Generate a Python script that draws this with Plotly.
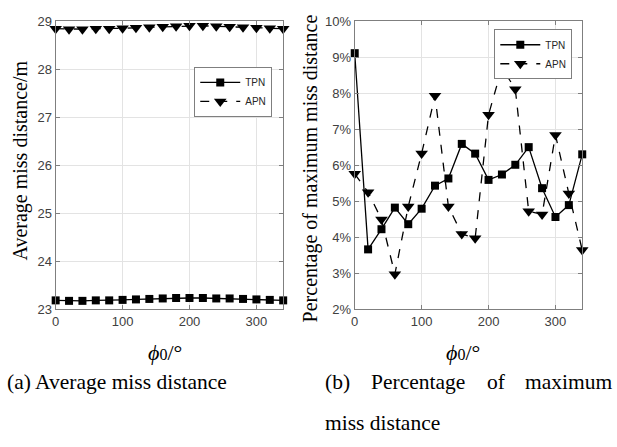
import plotly.graph_objects as go

phi = [0, 20, 40, 60, 80, 100, 120, 140, 160, 180, 200, 220, 240, 260, 280, 300, 320, 340]

avg_tpn = [23.19, 23.18, 23.18, 23.19, 23.19, 23.20, 23.21, 23.22, 23.23, 23.24, 23.24, 23.24, 23.23, 23.23, 23.22, 23.21, 23.20, 23.19]
avg_apn = [28.85, 28.84, 28.84, 28.85, 28.85, 28.86, 28.87, 28.88, 28.89, 28.90, 28.91, 28.91, 28.90, 28.89, 28.88, 28.87, 28.86, 28.85]

pct_tpn = [9.12, 3.67, 4.23, 4.83, 4.37, 4.80, 5.44, 5.64, 6.60, 6.33, 5.60, 5.75, 6.02, 6.51, 5.37, 4.57, 4.90, 6.31]
pct_apn = [5.77, 5.26, 4.50, 2.98, 4.86, 6.33, 7.94, 4.86, 4.10, 3.98, 7.41, 8.72, 8.12, 4.73, 4.64, 6.85, 5.22, 3.65]

W, H = 617, 447
def px(x): return x / W
def py(y): return 1 - y / H

fig = go.Figure()
sq = dict(symbol="square", size=8, color="black")
tri = dict(symbol="triangle-down", size=11, color="black")

fig.add_trace(go.Scatter(x=phi, y=avg_tpn, mode="lines+markers", name="TPN", cliponaxis=False,
                         line=dict(color="black", width=1.3), marker=sq,
                         xaxis="x", yaxis="y", legend="legend"))
fig.add_trace(go.Scatter(x=phi, y=avg_apn, mode="lines+markers", name="APN", cliponaxis=False,
                         line=dict(color="black", width=1.3, dash="dash"), marker=tri,
                         xaxis="x", yaxis="y", legend="legend"))
fig.add_trace(go.Scatter(x=phi, y=pct_tpn, mode="lines+markers", name="TPN", cliponaxis=False,
                         line=dict(color="black", width=1.3), marker=sq,
                         xaxis="x2", yaxis="y2", legend="legend2"))
fig.add_trace(go.Scatter(x=phi, y=pct_apn, mode="lines+markers", name="APN", cliponaxis=False,
                         line=dict(color="black", width=1.3, dash="dash"), marker=tri,
                         xaxis="x2", yaxis="y2", legend="legend2"))

axcommon = dict(showline=True, mirror="allticks", linecolor="#7f7f7f", linewidth=1,
                ticks="inside", ticklen=4, tickcolor="#7f7f7f",
                showgrid=True, gridcolor="#e3e3e3", gridwidth=1, zeroline=False,
                tickfont=dict(family="Liberation Sans, Arial", size=13, color="#404040"))

ydom = [py(313), py(15)]
legfont = dict(family="Liberation Sans, Arial", size=10, color="#262626")
fig.update_layout(
    width=W, height=H,
    margin=dict(l=0, r=0, t=0, b=0),
    paper_bgcolor="white", plot_bgcolor="white",
    xaxis=dict(domain=[px(52), px(281)], range=[0, 340], tickvals=[0, 100, 200, 300], anchor="y", **axcommon),
    yaxis=dict(domain=ydom, range=[23, 29], dtick=1, anchor="x", **axcommon),
    xaxis2=dict(domain=[px(353), px(582)], range=[0, 340], tickvals=[0, 100, 200, 300], anchor="y2", **axcommon),
    yaxis2=dict(domain=ydom, range=[2, 10], dtick=1, ticksuffix="%", anchor="x2", **axcommon),
    legend=dict(x=px(270), xanchor="right", y=py(62), yanchor="top",
                bgcolor="white", bordercolor="#7f7f7f", borderwidth=1,
                font=legfont, itemwidth=40, tracegroupgap=0),
    legend2=dict(x=px(572), xanchor="right", y=py(23), yanchor="top",
                 bgcolor="white", bordercolor="#7f7f7f", borderwidth=1,
                 font=legfont, itemwidth=40, tracegroupgap=0),
    showlegend=True,
)

serif = "Liberation Serif, Times New Roman"
base = dict(xref="paper", yref="paper", showarrow=False, xanchor="center", yanchor="middle")
ann = []
ann.append(dict(text="Average miss distance/m", x=px(17), y=py(159), textangle=-90,
                font=dict(family=serif, size=20, color="black"), **base))
ann.append(dict(text="Percentage of maximum miss distance", x=px(308), y=py(167), textangle=-90,
                font=dict(family=serif, size=20, color="black"), **base))
xt = '<i>ϕ</i><span style="font-size:16px">0</span>/°'
for cx in (162, 462):
    ann.append(dict(text=xt, x=px(cx), y=py(357),
                    font=dict(family=serif, size=22, color="black"), **base))
cap = dict(xref="paper", yref="paper", showarrow=False, yanchor="middle",
           font=dict(family=serif, size=21.5, color="black"))
ann.append(dict(text="(a) Average miss distance", x=px(1), y=py(388), xanchor="left", **cap))
ann.append(dict(text="(b)", x=px(321), y=py(388), xanchor="left", **cap))
ann.append(dict(text="Percentage", x=px(367), y=py(388), xanchor="left", **cap))
ann.append(dict(text="of", x=px(484), y=py(388), xanchor="left", **cap))
ann.append(dict(text="maximum", x=px(614), y=py(388), xanchor="right", **cap))
ann.append(dict(text="miss distance", x=px(321), y=py(430), xanchor="left", **cap))
fig.update_layout(annotations=ann)

fig.write_html("out.html", config={"displayModeBar": False},
               post_script="document.body.style.margin='0';")
